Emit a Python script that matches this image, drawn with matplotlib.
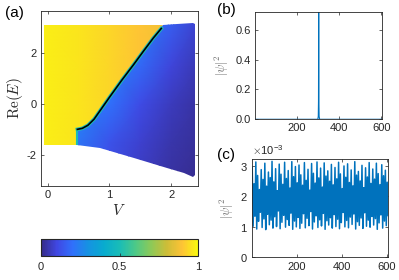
import numpy as np
import matplotlib.pyplot as plt
from matplotlib.colors import LinearSegmentedColormap
from matplotlib.patches import Polygon
from matplotlib.cm import ScalarMappable
from matplotlib.colors import Normalize

plt.rcParams['font.family'] = ['Liberation Sans', 'DejaVu Sans']
plt.rcParams['mathtext.fontset'] = 'cm'
plt.rcParams['axes.unicode_minus'] = False

# ---- data ----
# panel (a): outline of the spectrum, left (extended) part and right (localized) part
left_V = [-0.055, 0.47, 0.47]
left_E = [-1.61, -1.61, -1.0]
top_V = [1.86, 2.09, 2.35, 2.39]
top_E = [3.11, 3.15, 3.20, 3.15]
bottom_V = [0.47, 0.85, 1.39, 1.93, 2.20, 2.35, 2.39]
bottom_E = [-1.62, -1.75, -2.14, -2.53, -2.72, -2.86, -2.80]
edge_V = [0.48, 0.56, 0.65, 0.75, 0.88, 1.01, 1.20, 1.39, 1.55, 1.71, 1.84]
edge_E = [-1.0, -0.96, -0.84, -0.60, -0.15, 0.30, 0.94, 1.55, 2.08, 2.60, 2.98]

# colour values (fractal dimension) on coarse grids
fl_V = [-0.1, 0.5, 1.0, 1.5, 1.95]
fl_E = [-1.7, 0.0, 1.5, 3.2]
fl_val = [[0.98, 0.96, 0.94, 0.92, 0.90],
          [0.98, 0.96, 0.93, 0.91, 0.89],
          [0.98, 0.96, 0.93, 0.90, 0.88],
          [0.98, 0.96, 0.93, 0.90, 0.87]]
fr_V = [0.45, 1.0, 1.5, 2.0, 2.45]
fr_E = [-3.0, -1.5, 0.0, 1.5, 3.3]
fr_val = [[0.20, 0.10, 0.06, 0.03, 0.01],
          [0.22, 0.13, 0.08, 0.04, 0.02],
          [0.25, 0.20, 0.11, 0.06, 0.03],
          [0.28, 0.25, 0.18, 0.09, 0.05],
          [0.30, 0.28, 0.25, 0.16, 0.08]]

# panel (b): localized state
b_site = [1, 296, 299, 301, 302, 303, 304, 305, 307, 310, 610]
b_psi = [0, 0, 0.002, 0.02, 0.12, 0.75, 0.12, 0.02, 0.002, 0, 0]

# panel (c): extended state (units of 1e-3, every 4th site)
c_psi = [2.95, 1.02, 2.41, 1.35, 3.12, 0.93, 2.68, 1.18, 2.22, 1.48, 2.87, 0.98, 2.55, 1.26, 3.08, 0.91, 2.33, 1.41, 2.79,
         1.07, 2.61, 1.22, 3.14, 0.96, 2.47, 1.33, 2.90, 1.01, 2.18, 1.52, 3.05, 0.94, 2.72, 1.15, 2.39, 1.38, 3.11, 0.99,
         2.58, 1.24, 2.84, 1.05, 2.27, 1.45, 3.13, 0.92, 2.64, 1.19, 2.97, 1.00, 2.44, 1.31, 3.02, 0.95, 2.70, 1.12, 2.36,
         1.43, 3.10, 0.97, 2.52, 1.28, 2.88, 1.04, 2.20, 1.50, 3.07, 0.93, 2.75, 1.16, 2.43, 1.36, 3.12, 0.98, 2.60, 1.23,
         2.92, 1.03, 2.30, 1.44, 3.09, 0.92, 2.66, 1.20, 2.83, 1.06, 2.49, 1.30, 3.04, 0.96, 2.37, 1.40, 2.94, 1.01, 2.57,
         1.25, 3.11, 0.94, 2.73, 1.14, 2.25, 1.47, 2.99, 1.00, 2.62, 1.21, 3.06, 0.97, 2.45, 1.32, 2.86, 1.08, 2.34, 1.42,
         3.13, 0.93, 2.69, 1.17, 2.81, 1.05, 2.50, 1.29, 3.01, 0.95, 2.28, 1.46, 2.93, 1.02, 2.63, 1.22, 3.10, 0.99, 2.42,
         1.34, 2.89, 1.06, 2.56, 1.27, 3.08, 0.92, 2.74, 1.13, 2.38, 1.39, 3.03, 0.96, 2.67, 1.19, 2.85, 1.04, 2.46, 1.37]
c_site = np.arange(1, 4 * len(c_psi), 4)

# ---- style ----
parula = LinearSegmentedColormap.from_list('parula', [
    (0.208, 0.166, 0.529), (0.250, 0.280, 0.890), (0.190, 0.440, 0.985),
    (0.085, 0.573, 0.885), (0.030, 0.672, 0.810), (0.098, 0.739, 0.717),
    (0.300, 0.787, 0.534), (0.550, 0.789, 0.346), (0.800, 0.742, 0.219),
    (0.995, 0.765, 0.210), (0.976, 0.983, 0.054)])
axc = '#262626'
blue = '#0072BD'


def style(ax):
    ax.tick_params(direction='in', top=True, right=True, length=2.5, width=0.5,
                   labelsize=8, colors=axc, labelcolor=axc, pad=3)
    for s in ax.spines.values():
        s.set_color(axc)
        s.set_linewidth(0.6)


fig = plt.figure(figsize=(3.99, 2.80), dpi=100)

# (a)
ax = fig.add_axes([0.1028, 0.337, 0.3927, 0.624])
lpoly = list(zip(left_V, left_E)) + list(zip(edge_V, edge_E)) + [(1.86, 3.11), (-0.055, 3.11)]
rpoly = (list(zip(edge_V[::-1], edge_E[::-1])) + [(0.47, -1.0)] +
         list(zip(bottom_V, bottom_E)) + list(zip(top_V[::-1], top_E[::-1])))
for V, E, val, pts in [(fl_V, fl_E, fl_val, lpoly), (fr_V, fr_E, fr_val, rpoly)]:
    mesh = ax.pcolormesh(V, E, np.array(val), shading='gouraud', cmap=parula, vmin=0, vmax=1)
    patch = Polygon(pts, closed=True, facecolor='none', edgecolor='none')
    ax.add_patch(patch)
    mesh.set_clip_path(patch)
ax.plot([0.47, 0.47], [-1.6, -1.0], color=parula(0.5), lw=1.5, solid_capstyle='butt')
ax.plot(edge_V, edge_E, color=parula(0.5), lw=2.6)
ax.plot(edge_V, edge_E, color='k', lw=1.2)
ax.set_xlim(-0.11, 2.43)
ax.set_ylim(-3.22, 3.67)
ax.set_xticks([0, 1, 2])
ax.set_yticks([-2, 0, 2])
style(ax)
ax.set_xlabel('$V$', fontsize=11, color=axc, labelpad=2)
ax.set_ylabel(r'$\mathrm{Re}(E)$', fontsize=11, color=axc, labelpad=1)
fig.text(0.012, 0.955, '(a)', fontsize=11, color='k', va='center')

# colorbar
cax = fig.add_axes([0.1028, 0.0857, 0.394, 0.0607])
cb = fig.colorbar(ScalarMappable(norm=Normalize(0, 1), cmap=parula), cax=cax,
                  orientation='horizontal', ticks=[0, 0.5, 1])
cb.ax.set_xticklabels(['0', '0.5', '1'])
cb.ax.tick_params(direction='in', length=2, width=0.5, labelsize=8, colors=axc, pad=4)
cb.outline.set_color(axc)
cb.outline.set_linewidth(0.8)

# (b)
bx = fig.add_axes([0.639, 0.574, 0.319, 0.384])
bx.plot(b_site, b_psi, color=blue, lw=0.8)
bx.set_xlim(1, 604)
bx.set_ylim(0, 0.72)
bx.set_xticks([200, 400, 600])
bx.set_yticks([0, 0.2, 0.4, 0.6])
style(bx)
bx.set_ylabel(r'$|\psi|^2$', fontsize=9, color='#707070', labelpad=3)
fig.text(0.545, 0.965, '(b)', fontsize=11, color='k', va='center')

# (c)
cx = fig.add_axes([0.6316, 0.0804, 0.341, 0.351])
cx.plot(c_site, np.array(c_psi) * 1e-3, color=blue, lw=1.1)
cx.set_xlim(0, 605)
cx.set_ylim(0, 3.21e-3)
cx.set_xticks([200, 400, 600])
cx.set_yticks([0, 1e-3, 2e-3, 3e-3])
cx.ticklabel_format(axis='y', style='sci', scilimits=(0, 0), useMathText=True)
style(cx)
cx.yaxis.get_offset_text().set_fontsize(8)
cx.yaxis.get_offset_text().set_color(axc)
cx.set_ylabel(r'$|\psi|^2$', fontsize=9, color='#707070', labelpad=3)
fig.text(0.545, 0.447, '(c)', fontsize=11, color='k', va='center')

fig.savefig('out.png', dpi=100)
